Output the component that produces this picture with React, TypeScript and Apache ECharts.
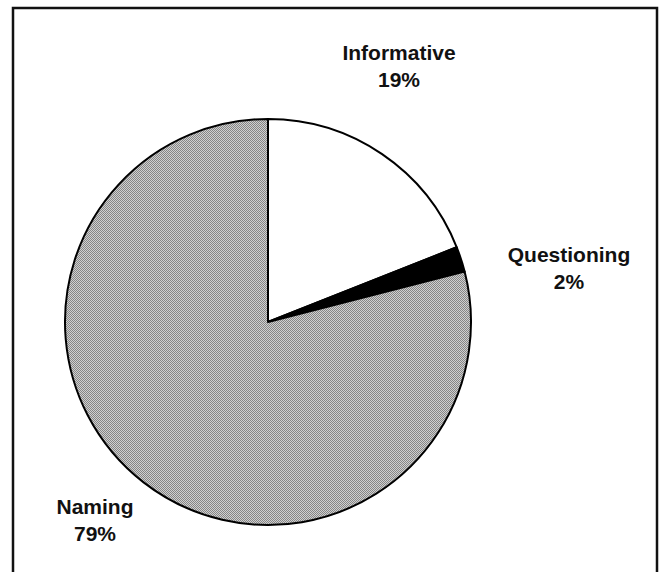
import React, { useEffect, useRef } from "react";
import * as echarts from "echarts";

const categories = ["Informative", "Questioning", "Naming"];
const values = [19, 2, 79];

const sliceColors = ["#ffffff", "#000000", "pattern"];
const labelCenters: [number, number][] = [
  [399, 66],
  [569, 268],
  [95, 520],
];

function makePattern(): HTMLCanvasElement {
  const c = document.createElement("canvas");
  c.width = 4;
  c.height = 4;
  const ctx = c.getContext("2d")!;
  for (let y = 0; y < 4; y++) {
    for (let x = 0; x < 4; x++) {
      ctx.fillStyle = (x + y) % 2 === 0 ? "#858585" : "#d0d0d0";
      ctx.fillRect(x, y, 1, 1);
    }
  }
  return c;
}

export default function App() {
  const ref = useRef<HTMLDivElement>(null);
  useEffect(() => {
    if (!ref.current) return;
    const chart = echarts.init(ref.current, undefined, { renderer: "svg" });
    const pattern = makePattern();
    const data = categories.map((name, i) => ({
      name,
      value: values[i],
      itemStyle: {
        color:
          sliceColors[i] === "pattern"
            ? ({ image: pattern, repeat: "repeat" } as any)
            : sliceColors[i],
      },
    }));
    chart.setOption({
      animation: false,
      backgroundColor: "#ffffff",
      graphic: [
        {
          type: "rect",
          shape: { x: 13, y: 8, width: 644, height: 600 },
          style: { fill: "none", stroke: "#111111", lineWidth: 2.5 },
          silent: true,
        },
      ],
      series: [
        {
          type: "pie",
          center: [268, 322],
          radius: 203,
          startAngle: 90,
          clockwise: true,
          data,
          itemStyle: { borderColor: "#000000", borderWidth: 2 },
          label: {
            show: true,
            position: "outside",
            formatter: "{b}\n{d}%",
            fontFamily: "Liberation Sans, Arial, sans-serif",
            fontWeight: "bold",
            fontSize: 21,
            lineHeight: 27,
            color: "#111111",
            align: "center",
          },
          labelLine: { show: false },
          labelLayout: (params: any) => {
            const p = labelCenters[params.dataIndex];
            return {
              x: p[0],
              y: p[1],
              align: "center",
              verticalAlign: "middle",
              moveOverlap: false,
            };
          },
          emphasis: { disabled: true },
        },
      ],
    });
    return () => chart.dispose();
  }, []);
  return (
    <div
      ref={ref}
      style={{ position: "absolute", left: 0, top: 0, width: 660, height: 572 }}
    />
  );
}
